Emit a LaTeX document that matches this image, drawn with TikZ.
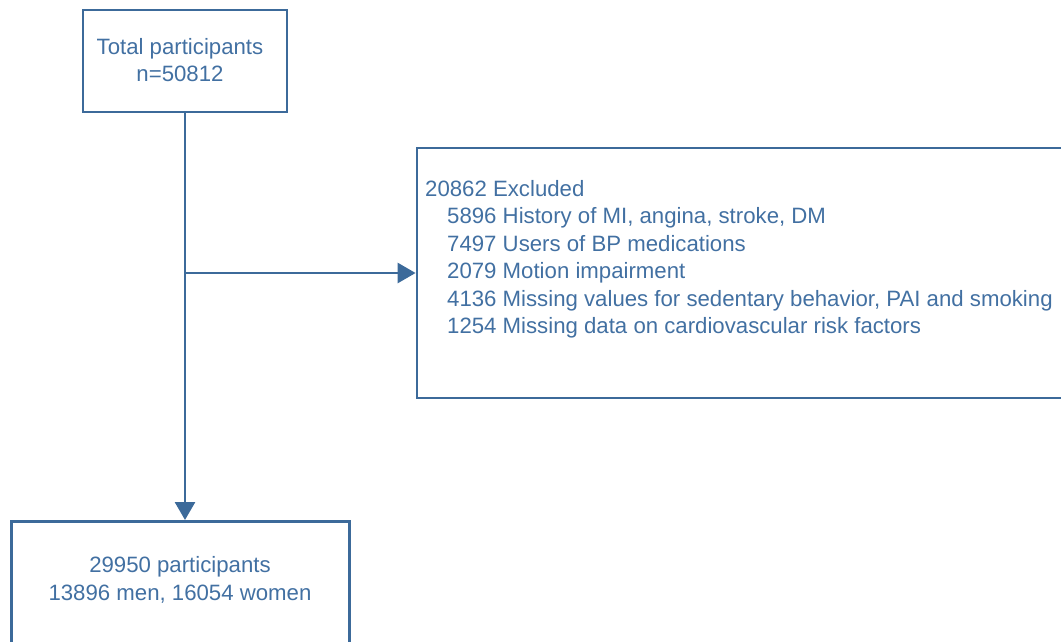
\documentclass[tikz,border=0pt]{standalone}
\usepackage{fontspec}
\setmainfont{Liberation Sans}
\usetikzlibrary{arrows.meta}
\definecolor{flow}{RGB}{60,106,154}
\definecolor{flowtext}{RGB}{66,112,162}
\begin{document}
\begin{tikzpicture}[x=1pt,y=-1pt,
  boxstyle/.style={draw=flow,line width=2.8pt,rectangle,inner sep=0pt},
  txt/.style={text=flowtext,font=\fontsize{22.2}{27.5}\selectfont,inner sep=0pt},
  conn/.style={draw=flow,line width=2.8pt},
  arr/.style={conn,-{Triangle[length=18pt,width=20pt]}}]
\useasboundingbox (0,0) rectangle (1061,641);
\node[boxstyle,minimum width=204pt,minimum height=102pt] (top) at (185,61) {};
\node[txt,align=center] (toptext) at (180,60) {Total participants\\n=50812};
\node[boxstyle,minimum width=648pt,minimum height=250pt] (excl) at (741,273) {};
\node[txt,align=left,anchor=north west] (excltext) at (425,180) {20862 Excluded\\
\hspace*{22pt}5896 History of MI, angina, stroke, DM\\
\hspace*{22pt}7497 Users of BP medications\\
\hspace*{22pt}2079 Motion impairment\\
\hspace*{22pt}4136 Missing values for sedentary behavior, PAI and smoking\\
\hspace*{22pt}1254 Missing data on cardiovascular risk factors};
\node[boxstyle,minimum width=338pt,minimum height=160pt,anchor=north west] (bottom) at (10,520) {};
\node[txt,align=center] (bottext) at (180,580) {29950 participants\\13896 men, 16054 women};
\coordinate (branch) at (top.south |- excl.west);
\draw[arr] (top.south) -- (top.south |- bottom.north);
\draw[arr] (branch) -- (excl.west);
\end{tikzpicture}
\end{document}
